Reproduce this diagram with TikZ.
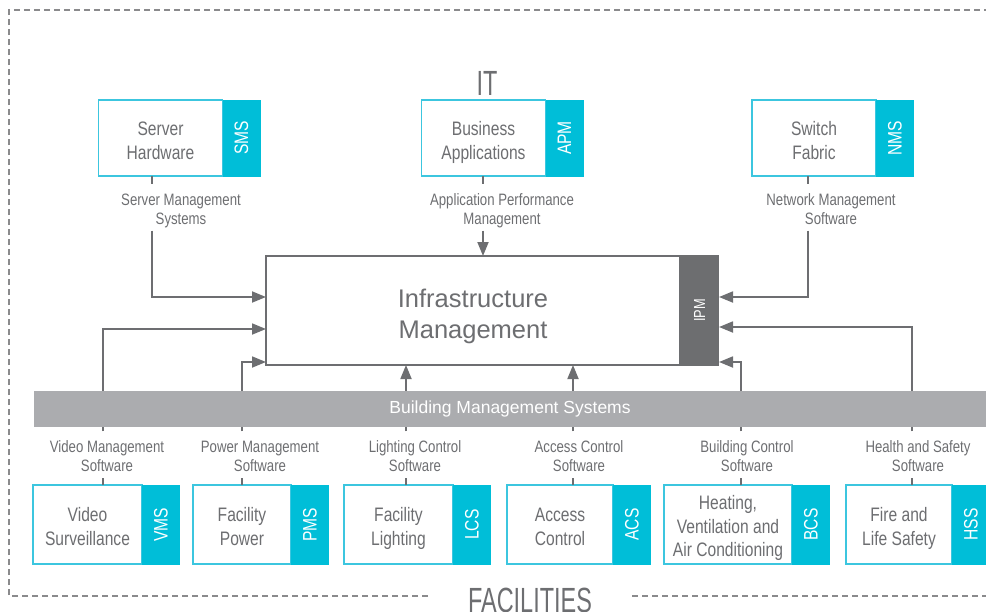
\documentclass[tikz,border=0pt]{standalone}
\usepackage{fontspec}
\setmainfont{Liberation Sans}
\newfontfamily\condfont{Liberation Sans}[FakeStretch=0.8]
\newfontfamily\narrowfont{Liberation Sans}[FakeStretch=0.67]
\usepackage{graphicx}
\usepackage{xcolor}
\definecolor{xcyan}{HTML}{00BED8}
\definecolor{xcyanline}{HTML}{3CC6DF}
\definecolor{xgray}{HTML}{6D6E71}
\definecolor{xbar}{HTML}{ABACAF}
\definecolor{xdark}{HTML}{6D6E70}
\definecolor{xframe}{HTML}{8A8A8C}
\newcommand{\upstrut}[1]{\rule{0pt}{#1}}
\usepackage{tikz}
\usetikzlibrary{arrows.meta, positioning}
\tikzset{
  %% Styles %%
  sysbox/.style = {draw=xcyanline, line width=1.3pt, fill=white, text=xgray,
    align=center, inner sep=0pt, outer sep=0pt, execute at end node=\strut,
    font=\condfont\fontsize{19.5}{23.5}\selectfont},
  systab/.style = {fill=xcyan, text=white, minimum width=38pt, inner sep=0pt, outer sep=0pt,
    font=\condfont\fontsize{19.5}{23}\selectfont},
  syslabel/.style = {text=xgray, align=center, inner xsep=2pt, inner ysep=0pt,
    execute at end node=\strut, font=\condfont\fontsize{16.5}{19}\selectfont},
  imbox/.style = {draw=xgray, line width=1.5pt, fill=white, text=xgray, align=center,
    minimum width=414pt, minimum height=109pt, inner sep=0pt, outer sep=0pt,
    execute at end node=\strut, font=\fontsize{25.5}{31}\selectfont},
  ipmtab/.style = {fill=xdark, text=white, minimum width=39pt, minimum height=111pt,
    inner sep=0pt, outer sep=0pt, font=\condfont\fontsize{16}{19}\selectfont},
  bmsbar/.style = {fill=xbar, text=white, minimum width=952pt, minimum height=36pt,
    inner sep=0pt, font=\fontsize{17.5}{20}\selectfont},
  bigtitle/.style = {text=xgray, inner sep=0pt, font=\narrowfont\fontsize{35}{40}\selectfont},
  frame/.style = {draw=xframe, line width=1.2pt, dash pattern=on 6pt off 4pt},
  link/.style = {draw=xgray, line width=1.8pt},
  arrow/.style = {link, -{Triangle[length=14pt, width=11pt]}},
}
\begin{document}
\begin{tikzpicture}[x=1pt, y=-1pt]
  \useasboundingbox (0,0) rectangle (986,611);

  % outer frame
  \draw[frame] (428,596) -| (9,10) -- (986,10);
  \draw[frame] (632,596) -- (986,596);
  \node[bigtitle, anchor=base] (it) at (487,95) {IT};
  \node[bigtitle, anchor=base] (facilities) at (530,612) {FACILITIES};

  % infrastructure management
  \node[imbox] (im) at (473,310.5) {\upstrut{35pt}Infrastructure\\Management};
  \node[ipmtab, right=0pt of im] (ipm) {\rotatebox{90}{IPM}};

  % building management bar
  \node[bmsbar] (bms) at (510,409) {Building Management Systems};

  % IT systems
  \foreach \nm/\cx/\abbr/\txt/\lx/\lc/\lbl in {
      sh/160.5/SMS/{Server\\Hardware}/152/181/{Server Management\\Systems},
      ba/483.5/APM/{Business\\Applications}/483/502/{Application Performance\\Management},
      sf/814/NMS/{Switch\\Fabric}/808/831/{Network Management\\Software}}
  {
    \node[sysbox, minimum width=124pt, minimum height=76pt] (\nm) at (\cx,138) {\upstrut{26pt}\txt};
    \node[systab, minimum height=77pt, right=0pt of \nm] (\nm Tab) {\rotatebox{90}{\abbr}};
    \node[syslabel] (\nm Lbl) at (\lc,207.5) {\upstrut{21pt}\lbl};
    \coordinate (\nm X) at (\lx,0);
    \draw[link] (\nm.south -| \nm X) -- (\nm Lbl.north -| \nm X);
  }

  % facility systems
  \foreach \nm/\cx/\bw/\abbr/\txt/\lx/\lc/\lbl in {
      vid/87.5/109/VMS/{Video\\Surveillance}/103/107/{Video Management\\Software},
      pow/242/98/PMS/{Facility\\Power}/242/260/{Power Management\\Software},
      lig/398.5/109/LCS/{Facility\\Lighting}/406/415/{Lighting Control\\Software},
      acc/560/106/ACS/{Access\\Control}/573/579/{Access Control\\Software},
      bcs/728/128/BCS/{Heating,\\Ventilation and\\Air Conditioning}/741/747/{Building Control\\Software},
      hss/899/106/HSS/{Fire and\\Life Safety}/912/918/{Health and Safety\\Software}}
  {
    \node[sysbox, minimum width=\bw pt, minimum height=79pt] (\nm) at (\cx,524.5) {\upstrut{25pt}\txt};
    \node[systab, minimum height=80pt, right=0pt of \nm] (\nm Tab) {\rotatebox{90}{\abbr}};
    \node[syslabel] (\nm Lbl) at (\lc,454.5) {\upstrut{21pt}\lbl};
    \coordinate (\nm X) at (\lx,0);
    \draw[link] (\nm.north -| \nm X) -- (\nm Lbl.south -| \nm X);
    \draw[link] (\nm Lbl.north -| \nm X) -- (bms.south -| \nm X);
  }

  % connectors into infrastructure management
  \draw[arrow] (shLbl.south -| shX) |- ([yshift=13.5pt]im.west);
  \draw[arrow] (baLbl.south -| baX) -- (im.north -| baX);
  \draw[arrow] (sfLbl.south -| sfX) |- ([yshift=13.5pt]ipm.east);
  \draw[arrow] (bms.north -| vidX) |- ([yshift=-18.5pt]im.west);
  \draw[arrow] (bms.north -| powX) |- ([yshift=-51.5pt]im.west);
  \draw[arrow] (bms.north -| ligX) -- (im.south -| ligX);
  \draw[arrow] (bms.north -| accX) -- (im.south -| accX);
  \draw[arrow] (bms.north -| bcsX) |- ([yshift=-51.5pt]ipm.east);
  \draw[arrow] (bms.north -| hssX) |- ([yshift=-16.5pt]ipm.east);
\end{tikzpicture}
\end{document}
